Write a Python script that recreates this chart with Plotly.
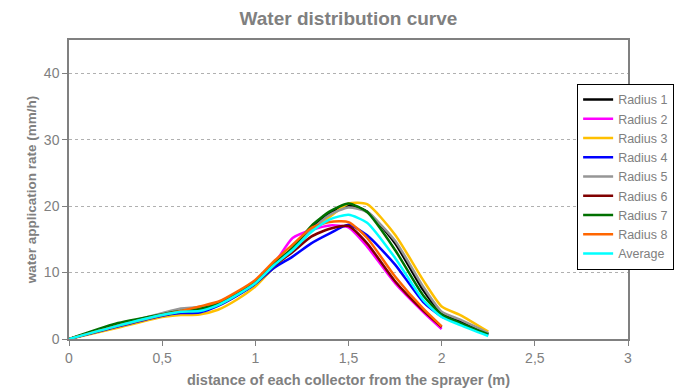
import plotly.graph_objects as go

x_full = [0, 0.25, 0.5, 0.6, 0.7, 0.8, 0.9, 1.0, 1.1, 1.2, 1.3, 1.4, 1.5, 1.6, 1.75, 1.9, 2.0, 2.1, 2.25]

radius1 = [0, 2.0, 3.6, 4.2, 4.4, 5.2, 6.7, 8.5, 11.2, 13.6, 16.6, 18.9, 20.1, 19.2, 14.4, 7.4, 3.9, 2.7, 0.8]
radius2 = [0, 1.9, 3.6, 4.1, 4.3, 5.2, 6.7, 8.5, 11.3, 15.2, 16.4, 17.1, 16.8, 13.9, 8.4, 4.1, 1.5]
radius3 = [0, 1.6, 3.3, 3.6, 3.7, 4.4, 5.9, 7.9, 10.8, 13.3, 16.2, 18.4, 20.4, 20.3, 15.7, 8.9, 4.9, 3.6, 1.1]
radius4 = [0, 1.8, 3.5, 3.9, 4.0, 5.0, 6.5, 8.3, 10.7, 12.4, 14.4, 15.9, 17.2, 15.6, 11.2, 5.6, 3.4, 2.3, 0.6]
radius5 = [0, 2.0, 3.9, 4.6, 4.8, 5.3, 6.7, 8.5, 11.2, 13.5, 16.4, 18.7, 19.8, 19.1, 14.8, 7.9, 4.1, 2.9, 0.9]
radius6 = [0, 1.9, 3.6, 4.1, 4.3, 5.1, 6.6, 8.4, 11.0, 13.1, 15.4, 16.6, 17.0, 14.4, 8.7, 4.3, 1.8]
radius7 = [0, 2.3, 3.7, 4.2, 4.5, 5.3, 6.8, 8.6, 11.3, 13.7, 17.0, 19.2, 20.4, 19.1, 13.4, 6.6, 3.7, 2.4, 0.7]
radius8 = [0, 1.9, 3.6, 4.2, 4.9, 5.6, 7.1, 8.9, 11.7, 14.2, 16.7, 17.6, 17.6, 15.2, 9.4, 4.6, 1.9]
average = [0, 1.9, 3.6, 4.1, 4.2, 5.1, 6.6, 8.4, 11.1, 13.4, 16.1, 18.0, 18.7, 17.5, 12.2, 5.9, 3.3, 2.1, 0.45]

names = ["Radius 1", "Radius 2", "Radius 3", "Radius 4", "Radius 5",
         "Radius 6", "Radius 7", "Radius 8", "Average"]
series = [radius1, radius2, radius3, radius4, radius5, radius6, radius7, radius8, average]
colors = ["#000000", "#FF00FF", "#FFC000", "#0000FF", "#969696",
          "#800000", "#007000", "#FF6600", "#00FFFF"]

x_ticks = [0, 0.5, 1, 1.5, 2, 2.5, 3]
x_ticktext = ["0", "0,5", "1", "1,5", "2", "2,5", "3"]
y_ticks = [0, 10, 20, 30, 40]

fig = go.Figure()
for name, ys, c in zip(names, series, colors):
    fig.add_trace(go.Scatter(
        x=x_full[:len(ys)], y=ys, name=name, mode="lines",
        line=dict(color=c, width=2.5, shape="spline", smoothing=0.6),
    ))

gray = "#808080"
fig.update_layout(
    width=698, height=388,
    margin=dict(l=69, r=70, t=40, b=49),
    paper_bgcolor="white", plot_bgcolor="white",
    font=dict(family="Liberation Sans, Arial, sans-serif", color=gray, size=14),
    title=dict(text="<b>Water distribution curve</b>", x=0.5, xref="paper",
               y=0.953, yanchor="middle",
               font=dict(size=19, color=gray)),
    showlegend=True,
    legend=dict(x=0.909, xanchor="left", y=0.853, yanchor="top",
                bordercolor="#000000", borderwidth=1, bgcolor="white",
                font=dict(size=12.5, color=gray), tracegroupgap=0),
    xaxis=dict(range=[0, 3], tickvals=x_ticks, ticktext=x_ticktext,
               showgrid=False, zeroline=False, showline=True, linecolor=gray,
               linewidth=1.5, mirror=True, ticks="outside", ticklen=5,
               tickcolor=gray, automargin=False, tickfont=dict(size=14),
               title=dict(text="<b>distance of each collector from the sprayer (m)</b>",
                          font=dict(size=14.5, color=gray), standoff=10)),
    yaxis=dict(range=[0, 45], tickvals=y_ticks,
               showgrid=True, gridcolor="#B0B0B0", griddash="dot", gridwidth=1,
               zeroline=False, showline=True, linecolor=gray, linewidth=1.5,
               mirror=True, ticks="outside", ticklen=5, tickcolor=gray,
               automargin=False, tickfont=dict(size=14),
               title=dict(text="<b>water application rate (mm/h)</b>",
                          font=dict(size=13.5, color=gray), standoff=4)),
)

fig.write_html("out.html")
